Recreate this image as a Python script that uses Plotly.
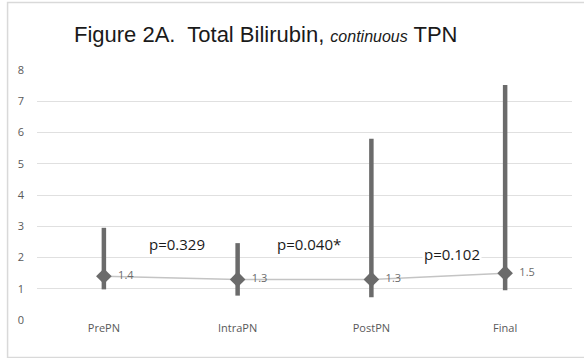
import plotly.graph_objects as go

categories = ["PrePN", "IntraPN", "PostPN", "Final"]
medians = [1.4, 1.3, 1.3, 1.5]
lows = [0.98, 0.78, 0.73, 0.95]
highs = [2.95, 2.46, 5.8, 7.52]
median_labels = ["1.4", "1.3", "1.3", "1.5"]
p_labels = ["p=0.329", "p=0.040*", "p=0.102"]
p_positions = [0.55, 1.53, 2.6]
p_heights = [2.42, 2.42, 2.1]
y_ticks = [0, 1, 2, 3, 4, 5, 6, 7, 8]

fig = go.Figure()

# connector line between medians
fig.add_trace(go.Scatter(
    x=categories, y=medians, mode="lines",
    line=dict(color="#c4c4c4", width=1.5),
    hoverinfo="skip", showlegend=False,
))

# ranges + median diamonds
fig.add_trace(go.Scatter(
    x=categories, y=medians, mode="markers+text",
    marker=dict(symbol="diamond", size=12, color="#6b6b6b"),
    error_y=dict(
        type="data", symmetric=False,
        array=[h - m for h, m in zip(highs, medians)],
        arrayminus=[m - l for m, l in zip(medians, lows)],
        color="#6b6b6b", thickness=4.5, width=0,
    ),
    text=["  " + t for t in median_labels],
    textposition="middle right",
    textfont=dict(family="Open Sans, Liberation Sans", size=11, color="#6b6b6b"),
    showlegend=False,
))

for lab, xp, yp in zip(p_labels, p_positions, p_heights):
    fig.add_annotation(
        x=xp, y=yp, xref="x", yref="y", text=lab, showarrow=False,
        font=dict(family="Open Sans, Liberation Sans", size=15, color="#1a1a1a"),
        bgcolor="white",
    )

fig.update_layout(
    width=584, height=358,
    margin=dict(l=37, r=12, t=70, b=38),
    paper_bgcolor="white", plot_bgcolor="white",
    title=dict(
        text="Figure 2A.  Total Bilirubin, <i><span style='font-size:16px'>continuous</span></i> TPN",
        x=0.455, xanchor="center", y=0.905, yanchor="middle",
        font=dict(family="Liberation Sans, Arial", size=22, color="#1a1a1a"),
    ),
    xaxis=dict(
        type="category", range=[-0.5, 3.5], showgrid=False, showline=False,
        zeroline=False, ticks="",
        tickfont=dict(family="Open Sans, Liberation Sans", size=11, color="#595959"),
    ),
    yaxis=dict(
        range=[0, 8], tickvals=y_ticks, showgrid=True, gridcolor="#e0e0e0",
        gridwidth=1, zeroline=False, showline=False, ticks="",
        ticklabelstandoff=12,
        tickfont=dict(family="Open Sans, Liberation Sans", size=11, color="#595959"),
    ),
    shapes=[dict(
        type="rect", xref="paper", yref="paper",
        x0=-0.055, x1=1.03, y0=-0.15, y1=1.27,
        line=dict(color="#d9d9d9", width=1.5), fillcolor="rgba(0,0,0,0)",
    )],
)

fig.write_html("out.html")
